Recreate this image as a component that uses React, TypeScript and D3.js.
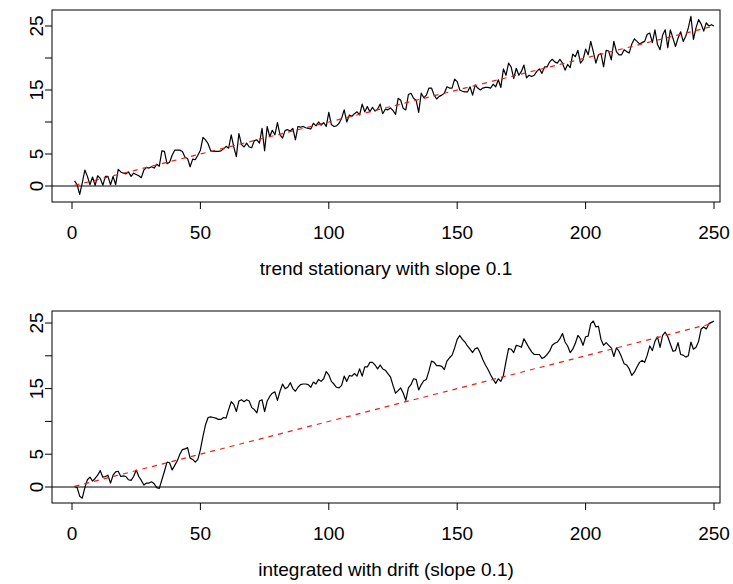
import React from "react";
import * as d3 from "d3";

// Values (time index 1..250)
const trendStationary: number[] = [
  0.8, 0.2, -1.3, 0.5, 2.5, 1.5, 0.2, 1.4, 0.1, 1.6,
  1.2, 0.1, 1.5, 1.5, 0.2, 1.5, 0.2, 2.6, 2.2, 2.0,
  1.9, 2.2, 1.5, 2.0, 1.8, 1.6, 1.3, 2.5, 2.9, 2.8,
  3.0, 2.8, 3.4, 3.1, 5.5, 5.4, 3.5, 3.7, 4.8, 5.6,
  5.6, 5.6, 5.4, 4.5, 4.3, 3.0, 4.2, 4.1, 4.8, 5.6,
  7.6, 7.2, 6.6, 5.5, 5.4, 5.4, 5.4, 5.5, 5.8, 6.2,
  5.9, 8.0, 6.1, 4.6, 8.2, 6.5, 6.1, 6.7, 6.1, 6.0,
  7.1, 7.2, 6.7, 9.0, 5.5, 9.3, 7.7, 8.7, 8.0, 9.9,
  8.0, 7.5, 8.7, 8.8, 8.6, 9.0, 7.2, 9.3, 9.2, 9.3,
  9.1, 9.0, 8.9, 9.8, 9.4, 10.0, 9.5, 9.9, 9.3, 11.5,
  9.6, 9.3, 9.4, 9.8, 10.6, 11.9, 10.0, 11.1, 10.9, 11.3,
  11.6, 11.1, 12.8, 11.6, 12.4, 11.6, 12.3, 11.7, 12.0, 12.8,
  11.3, 12.0, 11.9, 12.2, 11.8, 11.2, 13.7, 13.4, 12.1, 11.9,
  14.3, 14.5, 13.7, 13.4, 11.5, 14.5, 13.8, 14.2, 15.3, 15.3,
  14.2, 13.6, 14.0, 14.2, 14.5, 15.5, 15.3, 15.3, 16.7, 16.3,
  15.0, 14.8, 14.7, 14.7, 15.5, 14.2, 15.8, 15.3, 15.0, 15.3,
  15.4, 15.4, 15.3, 15.9, 15.5, 16.6, 15.4, 18.3, 17.3, 19.2,
  18.6, 16.8, 18.4, 17.3, 17.9, 18.9, 16.9, 17.3, 17.1, 17.3,
  17.9, 18.3, 17.6, 18.6, 18.6, 19.4, 19.8, 19.4, 19.2, 19.8,
  19.2, 18.1, 19.0, 18.5, 20.6, 20.2, 21.2, 19.2, 19.7, 21.4,
  20.5, 22.6, 21.0, 19.2, 20.5, 20.7, 18.6, 21.2, 21.1, 19.7,
  22.6, 21.0, 20.5, 20.5, 21.3, 21.0, 20.8, 22.2, 23.0, 22.6,
  22.2, 22.4, 22.6, 23.7, 23.9, 22.4, 24.4, 22.1, 21.3, 23.6,
  24.4, 21.6, 24.4, 23.1, 21.8, 23.1, 24.1, 22.6, 23.4, 24.7,
  26.5, 22.9, 24.7, 26.0, 25.3, 24.2, 25.5, 25.0, 25.2, 25.0,
];

const integratedDrift: number[] = [
  0.1, -0.1, -1.4, -1.7, -0.1, 1.1, 1.5, 0.9, 1.3, 1.8,
  2.5, 1.5, 1.6, 1.8, 0.6, 1.8, 2.3, 2.4, 1.6, 1.7,
  1.6, 1.1, 1.0, 1.6, 2.6, 1.6, 1.0, 0.3, 0.6, 0.6,
  0.8, 0.5, -0.1, -0.2, 1.1, 2.4, 3.8, 3.7, 2.6, 3.3,
  4.0, 5.0, 5.7, 5.8, 6.0, 4.4, 4.2, 3.8, 4.2, 5.7,
  7.7, 9.5, 10.6, 10.7, 10.6, 10.5, 10.3, 10.3, 10.6, 10.5,
  11.8, 13.0, 12.6, 11.5, 13.1, 13.3, 13.0, 13.3, 13.1, 12.1,
  11.8, 11.3, 13.1, 13.3, 11.5, 13.1, 13.8, 14.3, 14.5, 13.2,
  14.6, 15.7, 15.0, 15.2, 15.9, 15.0, 14.6, 15.2, 15.6, 15.7,
  15.7, 15.6, 15.2, 16.0, 15.7, 16.4, 16.1, 16.5, 17.6, 17.1,
  16.1, 15.7, 15.2, 15.1, 15.5, 16.9, 16.1, 17.0, 16.9, 17.3,
  16.9, 18.0, 16.9, 18.3, 18.3, 19.0, 19.0, 18.6, 18.0, 18.6,
  18.0, 17.8, 17.3, 16.8, 15.5, 14.3, 14.7, 15.1, 14.3, 13.2,
  15.1, 15.6, 16.5, 16.4, 14.8, 15.6, 16.2, 16.4, 17.7, 19.2,
  19.0, 18.5, 18.5, 18.4, 17.9, 19.2, 19.7, 20.1, 21.2, 22.5,
  23.1, 22.5, 22.1, 21.5, 21.0, 20.5, 21.1, 21.2, 20.4, 19.4,
  18.6, 17.9, 17.1, 16.4, 15.8, 16.5, 16.1, 17.0, 19.1, 21.1,
  21.0, 20.5, 21.6, 21.5, 21.3, 22.6, 21.9, 21.2, 20.6, 20.2,
  20.2, 20.2, 19.6, 19.8, 20.2, 20.7, 21.6, 21.9, 22.1, 22.6,
  23.4, 22.1, 21.5, 20.5, 21.0, 21.9, 23.1, 22.6, 21.6, 22.9,
  23.0, 24.9, 25.3, 24.4, 24.5, 22.5, 21.6, 22.0, 21.6, 21.2,
  19.9, 21.2, 20.7, 19.8, 18.8, 18.6, 18.0, 17.0, 17.5, 18.3,
  19.0, 19.3, 19.0, 20.1, 21.5, 20.8, 22.2, 22.9, 21.3, 23.1,
  23.6, 22.9, 21.8, 20.7, 20.8, 22.0, 20.2, 20.1, 19.8, 20.0,
  22.1, 21.0, 21.3, 22.2, 24.1, 24.4, 24.1, 24.9, 25.1, 25.3,
];

const trendSlope = 0.1;
const xTicks = [0, 50, 100, 150, 200, 250];
const yTicks = [0, 5, 10, 15, 20, 25];
const yTickLabels = [0, 5, 15, 25];
const titles = ["trend stationary with slope 0.1", "integrated with drift (slope 0.1)"];

const FONT = "'Liberation Sans', Arial, Helvetica, sans-serif";
const FS = 19;

interface PanelProps {
  values: number[];
  title: string;
  top: number;
  yAt0: number;
  yAt25: number;
}

function Panel({ values, title, top, yAt0, yAt25 }: PanelProps) {
  const left = 52;
  const right = 720;
  const height = 192;
  const bottom = top + height;
  const x = d3.scaleLinear().domain([0, 250]).range([72, 714]);
  const y = d3.scaleLinear().domain([0, 25]).range([yAt0, yAt25]);
  const pts: [number, number][] = values.map((v, i) => [i + 1, v]);
  const line = d3
    .line<[number, number]>()
    .x((d) => x(d[0]))
    .y((d) => y(d[1]));
  const n = values.length;
  const trend: [number, number][] = [
    [1, trendSlope * 1],
    [n, trendSlope * n],
  ];
  const clipId = `clip-${top}`;
  return (
    <g>
      <defs>
        <clipPath id={clipId}>
          <rect x={left} y={top} width={right - left} height={height} />
        </clipPath>
      </defs>
      <g clipPath={`url(#${clipId})`}>
        <line x1={left} x2={right} y1={y(0)} y2={y(0)} stroke="#000" strokeWidth={1} />
        <path d={line(pts) || ""} fill="none" stroke="#000" strokeWidth={1.2} strokeLinejoin="round" />
        <path
          d={line(trend) || ""}
          fill="none"
          stroke="#e8201c"
          strokeWidth={1.2}
          strokeDasharray="5,5"
        />
      </g>
      <rect x={left} y={top} width={right - left} height={height} fill="none" stroke="#000" strokeWidth={1} />
      {xTicks.map((t) => (
        <g key={`x${t}`}>
          <line x1={x(t)} x2={x(t)} y1={bottom} y2={bottom + 7} stroke="#000" />
          <text x={x(t)} y={bottom + 37} textAnchor="middle" fontFamily={FONT} fontSize={FS} fill="#000">
            {t}
          </text>
        </g>
      ))}
      {yTicks.map((t) => (
        <line key={`y${t}`} x1={left - 7} x2={left} y1={y(t)} y2={y(t)} stroke="#000" />
      ))}
      {yTickLabels.map((t) => (
        <text
          key={`yl${t}`}
          transform={`translate(${left - 9},${y(t)}) rotate(-90)`}
          textAnchor="middle"
          fontFamily={FONT}
          fontSize={FS}
          fill="#000"
        >
          {t}
        </text>
      ))}
      <text
        x={(left + right) / 2}
        y={bottom + 73}
        textAnchor="middle"
        fontFamily={FONT}
        fontSize={FS}
        fill="#000"
      >
        {title}
      </text>
    </g>
  );
}

export default function App() {
  return (
    <svg
      width={733}
      height={584}
      style={{ position: "absolute", left: 0, top: 0, background: "#fff" }}
    >
      <rect width={733} height={584} fill="#fff" />
      <Panel values={trendStationary} title={titles[0]} top={10} yAt0={186} yAt25={26} />
      <Panel values={integratedDrift} title={titles[1]} top={311} yAt0={487} yAt25={323} />
    </svg>
  );
}
